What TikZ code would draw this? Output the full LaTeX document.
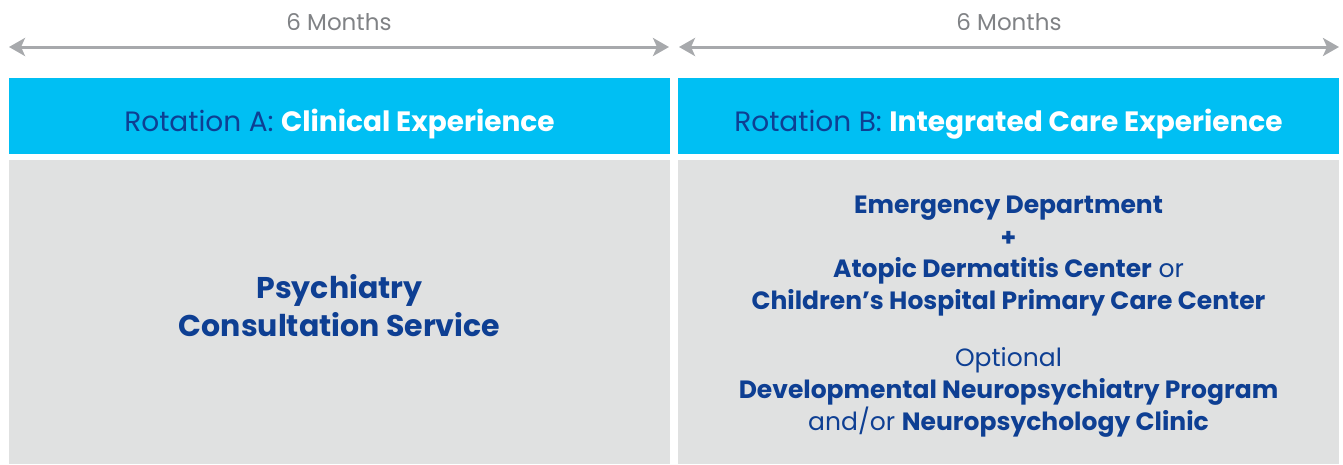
\documentclass[tikz,border=0pt]{standalone}
\usepackage{fontspec}
\setmainfont{Poppins}
\usepackage{tikz}
\usetikzlibrary{arrows.meta}
\definecolor{hdrblue}{HTML}{00BFF3}
\definecolor{txtblue}{HTML}{0E3F93}
\definecolor{panelgray}{HTML}{E0E1E1}
\definecolor{arrowgray}{HTML}{A7A9AC}
\definecolor{labelgray}{HTML}{808285}
\newcommand{\rotHeader}[4]{
\node (#1) at (#2,116) [hdr] {};
\node (#1txt) at (#2,131) [anchor=base,font=\fontsize{28}{30}\selectfont,text=txtblue] {#3 \textcolor{white}{\bfseries #4}};
}

\begin{document}
\begin{tikzpicture}[x=1pt,y=-1pt,>={Stealth[length=16pt,width=18pt,inset=4pt]}]
\tikzset{
  hdr/.style={fill=hdrblue,inner sep=0,minimum width=661pt,minimum height=76pt},
  panel/.style={fill=panelgray,inner sep=0,minimum width=661pt,minimum height=304pt},
  span/.style={<->,arrowgray,line width=3pt},
  months/.style={anchor=base,font=\fontsize{23}{25}\selectfont,text=labelgray},
  body/.style={anchor=base,font=\fontsize{30}{32}\selectfont\bfseries,text=txtblue},
  item/.style={anchor=base,font=\fontsize{25}{27}\selectfont,text=txtblue}
}
\useasboundingbox (0,0) rectangle (1343,464);
%
\coordinate (aL) at (9,47);\coordinate (aR) at (669,47);
\coordinate (bL) at (679,47);\coordinate (bR) at (1339,47);
\draw [span] (aL) -- (aR);\node (mA) at (339,30) [months] {6 Months};
\draw [span] (bL) -- (bR);\node (mB) at (1009,30) [months] {6 Months};
%
\rotHeader{hdrA}{339.5}{Rotation A:}{Clinical Experience}
\rotHeader{hdrB}{1008.5}{Rotation B:}{Integrated Care Experience}
%
\node (panA) at (339.5,312) [panel] {};
\node (panB) at (1008.5,312) [panel] {};
%
\node (psy) at (339.5,298) [body] {Psychiatry};
\node (cons) at (339.5,336) [body] {Consultation Service};
%
\node (ed) at (1008.5,213) [item] {\bfseries Emergency Department};
\node (plus) at (1008.5,246) [item] {\bfseries +};
\node (atop) at (1008.5,277) [item] {\textbf{Atopic Dermatitis Center} or};
\node (chp) at (1008.5,309) [item] {\bfseries Children’s Hospital Primary Care Center};
\node (opt) at (1008.5,366) [item] {Optional};
\node (dnp) at (1008.5,398) [item] {\bfseries Developmental Neuropsychiatry Program};
\node (npc) at (1008.5,430) [item] {and/or \textbf{Neuropsychology Clinic}};
\end{tikzpicture}
\end{document}
